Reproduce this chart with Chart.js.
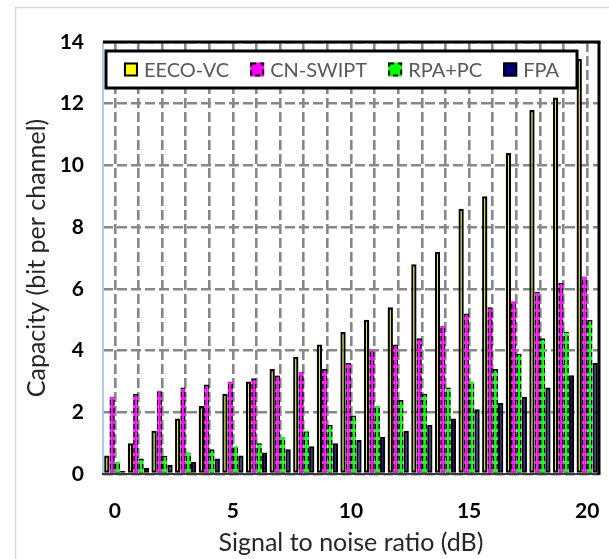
<!DOCTYPE html>
<html>
<head>
<meta charset="utf-8">
<script src="https://cdn.jsdelivr.net/npm/chart.js@4/dist/chart.umd.min.js"></script>
<style>
html,body{margin:0;padding:0;background:#fff;}
#wrap{width:609px;height:559px;position:relative;}
canvas{display:block;}
</style>
</head>
<body>
<div id="wrap"><canvas id="c" width="609" height="559"></canvas></div>
<script>
// ---- data ----
const categories = ['0','1','2','3','4','5','6','7','8','9','10','11','12','13','14','15','16','17','18','19','20'];
const xTickLabels = ['0','5','10','15','20'];
const yTicks = [0, 2, 4, 6, 8, 10, 12, 14];
const seriesNames = ['EECO-VC', 'CN-SWIPT', 'RPA+PC', 'FPA'];
const eecoVC  = [0.6, 1.0, 1.4, 1.8, 2.2, 2.6, 3.0, 3.4, 3.8, 4.2, 4.6, 5.0, 5.4, 6.8, 7.2, 8.6, 9.0, 10.4, 11.8, 12.2, 13.45];
const cnSwipt = [2.5, 2.6, 2.7, 2.8, 2.9, 3.0, 3.1, 3.2, 3.3, 3.4, 3.6, 4.0, 4.2, 4.4, 4.8, 5.2, 5.4, 5.6, 5.9, 6.2, 6.4];
const rpaPc   = [0.4, 0.5, 0.6, 0.7, 0.8, 0.9, 1.0, 1.2, 1.4, 1.6, 1.9, 2.2, 2.4, 2.6, 2.8, 3.0, 3.4, 3.9, 4.4, 4.6, 5.0];
const fpa     = [0.1, 0.2, 0.3, 0.4, 0.5, 0.6, 0.7, 0.8, 0.9, 1.0, 1.1, 1.2, 1.4, 1.6, 1.8, 2.1, 2.3, 2.5, 2.8, 3.2, 3.6];

// ---- styles ----
const FONT = 'Lato, "Open Sans", sans-serif';
const canvas = document.getElementById('c');
const mainCtx = canvas.getContext('2d');
function dashPattern(color) {
  const p = document.createElement('canvas');
  p.width = 1; p.height = 8;
  const x = p.getContext('2d');
  x.fillStyle = '#000'; x.fillRect(0, 0, 1, 5);
  x.fillStyle = color; x.fillRect(0, 5, 1, 3);
  return mainCtx.createPattern(p, 'repeat');
}
const fills = ['#ffff00', '#ff00ff', '#00ff00', '#000080'];
const borders = ['#000000', dashPattern('#ff00ff'), dashPattern('#00ff00'), '#000000'];
const dashed = [false, true, true, false];
const bw = [2.3, 1.7, 1.7, 2.2];

const datasets = [eecoVC, cnSwipt, rpaPc, fpa].map((d, i) => ({
  label: seriesNames[i],
  data: d,
  backgroundColor: fills[i],
  borderColor: borders[i],
  borderWidth: bw[i],
  borderSkipped: false,
  categoryPercentage: 0.9,
  barPercentage: 1.0
}));

const overlay = {
  id: 'overlay',
  beforeDraw(chart) {
    const ctx = chart.ctx;
    ctx.save();
    ctx.strokeStyle = '#d9d9d9';
    ctx.lineWidth = 1.5;
    ctx.beginPath();
    ctx.moveTo(15.5, 560); ctx.lineTo(15.5, 7.5); ctx.lineTo(610, 7.5);
    ctx.stroke();
    ctx.restore();
  },
  afterDatasetsDraw(chart) {
    const ctx = chart.ctx, a = chart.chartArea;
    const line = (x1, y1, x2, y2) => { ctx.beginPath(); ctx.moveTo(x1, y1); ctx.lineTo(x2, y2); ctx.stroke(); };
    ctx.save();
    ctx.strokeStyle = '#b4c7e7'; ctx.lineWidth = 2;
    line(a.left, a.top, a.left, a.bottom);
    ctx.strokeStyle = '#3a3a3a'; ctx.lineWidth = 2;
    line(a.left - 1, a.bottom, a.right, a.bottom);
    ctx.strokeStyle = '#000'; ctx.lineWidth = 3;
    line(a.left, a.top, a.right + 1.5, a.top);
    line(a.right, a.top, a.right, a.bottom + 1);
    // legend box
    const L = a.left + 3, T = a.top + 9, W = 471, H = 37;
    ctx.fillStyle = '#fff';
    ctx.fillRect(L, T, W, H);
    ctx.strokeStyle = '#000'; ctx.lineWidth = 3;
    ctx.strokeRect(L, T, W, H);
    ctx.font = '20px ' + FONT;
    ctx.textBaseline = 'middle';
    const box = 14, gap = 6, spacing = 21;
    const widths = chart.data.datasets.map(ds => ctx.measureText(ds.label).width);
    const total = widths.reduce((s, w) => s + box + gap + w, 0) + spacing * (widths.length - 1);
    let x = L + W / 2 - total / 2;
    const cy = T + H / 2;
    chart.data.datasets.forEach((ds, i) => {
      ctx.fillStyle = fills[i];
      ctx.fillRect(x, cy - box / 2, box, box);
      ctx.strokeStyle = '#000'; ctx.lineWidth = 2;
      ctx.setLineDash(dashed[i] ? [5, 4] : []);
      ctx.strokeRect(x + 1, cy - box / 2 + 1, box - 2, box - 2);
      ctx.setLineDash([]);
      ctx.fillStyle = '#595959';
      ctx.fillText(ds.label, x + box + gap, cy + 1);
      x += box + gap + widths[i] + spacing;
    });
    ctx.restore();
  }
};

new Chart(canvas, {
  type: 'bar',
  data: { labels: categories, datasets },
  plugins: [overlay],
  options: {
    responsive: false,
    animation: false,
    events: [],
    layout: { padding: { top: 42, right: 10, left: 0, bottom: 0 } },
    plugins: { legend: { display: false }, tooltip: { enabled: false } },
    scales: {
      x: {
        type: 'category',
        offset: true,
        grid: { offset: false, color: '#878787', lineWidth: 2.6, drawTicks: false },
        border: { display: false, dash: [10, 4] },
        ticks: {
          autoSkip: false, maxRotation: 0, minRotation: 0, padding: 25, color: '#000',
          font: { family: FONT, size: 21, weight: 'bold' },
          callback: function(v, i) { const l = categories[i]; return xTickLabels.includes(l) ? l : ''; }
        },
        title: { display: true, text: 'Signal to noise ratio (dB)', color: '#262626',
                 font: { family: FONT, size: 25 }, padding: { top: 0, bottom: 1 } },
        afterFit(s) { s.height = 85; s.paddingLeft = 0; s.paddingRight = 0; }
      },
      y: {
        min: 0, max: 14,
        grid: { color: '#878787', lineWidth: 2.6, drawTicks: false },
        border: { display: false, dash: [10, 4] },
        afterBuildTicks(s) { s.ticks = yTicks.map(v => ({ value: v })); },
        ticks: { padding: 19, color: '#000', font: { family: FONT, size: 21, weight: 'bold' } },
        title: { display: true, text: 'Capacity (bit per channel)', color: '#262626',
                 font: { family: FONT, size: 25 }, padding: { top: 22, bottom: 0 } },
        afterFit(s) { s.width = 103; }
      }
    }
  }
});
</script>
</body>
</html>
